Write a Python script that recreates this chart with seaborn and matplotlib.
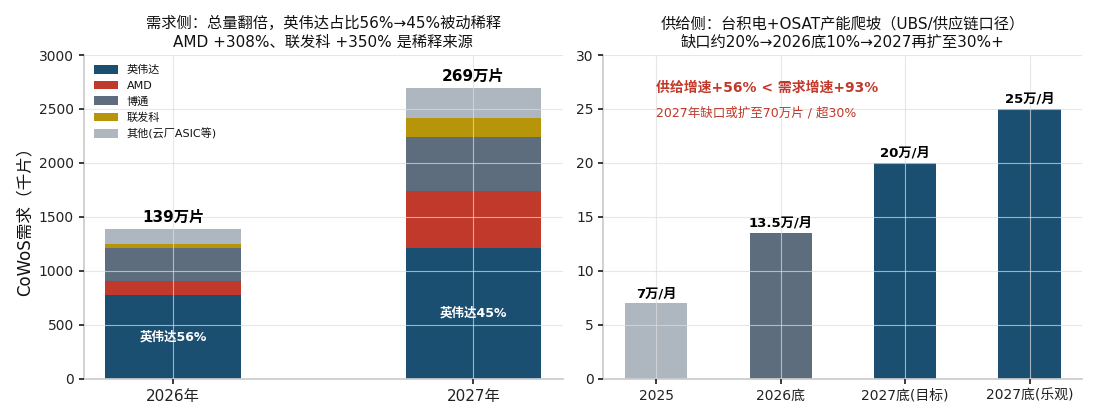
import pandas as pd
import matplotlib
matplotlib.use('Agg')
import matplotlib.pyplot as plt
import seaborn as sns

# demand side (thousand wafers)
years = ['2026年', '2027年']
vendors = ['英伟达', 'AMD', '博通', '联发科', '其他(云厂ASIC等)']
nvidia = [780, 1210]
amd = [130, 530]
broadcom = [300, 500]
mediatek = [40, 180]
others = [140, 270]
totals_label = ['139万片', '269万片']
nv_share = ['英伟达56%', '英伟达45%']

# supply side (10k wafers / month)
periods = ['2025', '2026底', '2027底(目标)', '2027底(乐观)']
capacity = [7, 13.5, 20, 25]
capacity_label = ['7万/月', '13.5万/月', '20万/月', '25万/月']

colors = ['#1b4f72', '#c0392b', '#5d6d7e', '#b7950b', '#aeb6bf']
supply_colors = ['#aeb6bf', '#5d6d7e', '#1b4f72', '#1b4f72']

sns.set_theme(style='whitegrid', rc={
    'axes.edgecolor': '#cccccc',
    'axes.facecolor': 'white',
    'grid.color': '#e4e4e4',
    'xtick.bottom': True,
    'ytick.left': True,
    'xtick.color': '#222222',
    'ytick.color': '#222222',
    'text.color': '#111111',
    'axes.labelcolor': '#111111',
    'xtick.major.size': 3.5,
    'ytick.major.size': 3.5,
})
plt.rcParams['font.family'] = ['DejaVu Sans', 'Noto Sans CJK SC']
plt.rcParams['axes.unicode_minus'] = False

fig, (ax1, ax2) = plt.subplots(1, 2, figsize=(11, 4.2), dpi=100)
fig.subplots_adjust(left=0.076, right=0.984, top=0.869, bottom=0.098, wspace=0.085)

# ---- left: stacked demand ----
df = pd.DataFrame({'year': years, '英伟达': nvidia, 'AMD': amd, '博通': broadcom,
                   '联发科': mediatek, '其他(云厂ASIC等)': others})
cum = df[vendors].cumsum(axis=1)
for i in range(len(vendors) - 1, -1, -1):
    v = vendors[i]
    sns.barplot(x=df['year'], y=cum[v], color=colors[i], width=0.45,
                saturation=1, linewidth=0, ax=ax1, label=v)
h, l = ax1.get_legend_handles_labels()
lookup = dict(zip(l, h))
ax1.legend([lookup[v] for v in vendors], vendors, loc='upper left', frameon=False,
           fontsize=8, handlelength=2.2, handleheight=0.8, labelspacing=0.5)

total = cum[vendors[-1]]
for i in range(len(years)):
    ax1.text(i, total[i] + 40, totals_label[i], ha='center', va='bottom',
             fontsize=11, fontweight='bold', color='black')
    ax1.text(i, nvidia[i] / 2, nv_share[i], ha='center', va='center',
             fontsize=9, fontweight='bold', color='white')

ax1.set_ylim(0, 3000)
ax1.set_xlabel('')
ax1.set_ylabel('CoWoS需求（千片）', fontsize=12)
ax1.tick_params(axis='x', labelsize=11)
ax1.tick_params(axis='y', labelsize=10)
ax1.set_title('需求侧：总量翻倍，英伟达占比56%→45%被动稀释\nAMD +308%、联发科 +350% 是稀释来源',
              fontsize=11, linespacing=1.3)

# ---- right: supply capacity ----
sup = pd.DataFrame({'period': periods, 'cap': capacity})
sns.barplot(data=sup, x='period', y='cap', hue='period', palette=supply_colors,
            width=0.5, saturation=1, linewidth=0, legend=False, ax=ax2)
for i in range(len(periods)):
    ax2.text(i, capacity[i] + 0.3, capacity_label[i], ha='center', va='bottom',
             fontsize=9.5, fontweight='bold', color='black')
ax2.text(0.11, 0.898, '供给增速+56% < 需求增速+93%', transform=ax2.transAxes,
         ha='left', va='center', fontsize=10, fontweight='bold', color='#c0392b')
ax2.text(0.11, 0.822, '2027年缺口或扩至70万片 / 超30%', transform=ax2.transAxes,
         ha='left', va='center', fontsize=9, color='#c0392b')
ax2.set_ylim(0, 30)
ax2.set_xlabel('')
ax2.set_ylabel('')
ax2.tick_params(axis='x', labelsize=10)
ax2.tick_params(axis='y', labelsize=10)
ax2.set_title('供给侧：台积电+OSAT产能爬坡（UBS/供应链口径）\n缺口约20%→2026底10%→2027再扩至30%+',
              fontsize=11, linespacing=1.3)

for ax in (ax1, ax2):
    # back to matplotlib's default x margins instead of seaborn's +-0.5
    ax.relim()
    ax.autoscale(enable=True, axis='x')
    sns.despine(ax=ax)
    ax.set_axisbelow(False)
    ax.grid(True, color='#dddddd', alpha=0.7, linewidth=0.8)

fig.savefig('out.png')
